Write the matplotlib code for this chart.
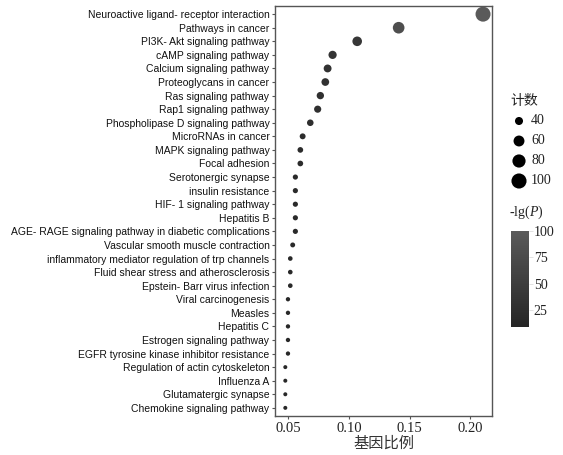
import matplotlib
matplotlib.use("Agg")
import matplotlib as mpl
import matplotlib.pyplot as plt
import numpy as np
from matplotlib.colors import LinearSegmentedColormap, Normalize

pathways = [
    "Neuroactive ligand- receptor interaction", "Pathways in cancer",
    "PI3K- Akt signaling pathway", "cAMP signaling pathway",
    "Calcium signaling pathway", "Proteoglycans in cancer",
    "Ras signaling pathway", "Rap1 signaling pathway",
    "Phospholipase D signaling pathway", "MicroRNAs in cancer",
    "MAPK signaling pathway", "Focal adhesion", "Serotonergic synapse",
    "insulin resistance", "HIF- 1 signaling pathway", "Hepatitis B",
    "AGE- RAGE signaling pathway in diabetic complications",
    "Vascular smooth muscle contraction",
    "inflammatory mediator regulation of trp channels",
    "Fluid shear stress and atherosclerosis", "Epstein- Barr virus infection",
    "Viral carcinogenesis", "Measles", "Hepatitis C",
    "Estrogen signaling pathway", "EGFR tyrosine kinase inhibitor resistance",
    "Regulation of actin cytoskeleton", "Influenza A",
    "Glutamatergic synapse", "Chemokine signaling pathway",
]
gene_ratio = [0.2106, 0.141, 0.1068, 0.0865, 0.0824, 0.0805, 0.0764, 0.0742,
              0.0681, 0.0618, 0.0599, 0.0599, 0.0558, 0.0558, 0.0558, 0.0558,
              0.0558, 0.0536, 0.0516, 0.0516, 0.0516, 0.0497, 0.0497, 0.0497,
              0.0497, 0.0497, 0.0475, 0.0475, 0.0475, 0.0475]
counts = [99, 66, 50, 41, 39, 38, 36, 35, 32, 29, 28, 28, 26, 26, 26, 26,
          26, 25, 24, 24, 24, 23, 23, 23, 23, 23, 22, 22, 22, 22]
neg_lg_p = [100, 80, 40, 35, 32, 30, 28, 27, 24, 22, 22, 21, 18, 18, 18, 18,
            18, 17, 16, 16, 16, 15, 15, 15, 15, 15, 14, 14, 14, 14]
size_legend = [40, 60, 80, 100]
cbar_ticks = [25, 50, 75, 100]
x_ticks = [0.05, 0.10, 0.15, 0.20]

mpl.rcParams["mathtext.fontset"] = "custom"
mpl.rcParams["mathtext.it"] = "Liberation Serif:italic"
mpl.rcParams["mathtext.rm"] = "Liberation Serif"

W, H = 563, 455
fig = plt.figure(figsize=(W / 100, H / 100), dpi=100)

def size_of(c):
    d = np.sqrt(np.maximum(-43.7 + 2.714 * np.asarray(c, float), 4))
    return (0.72 * d) ** 2

cmap = LinearSegmentedColormap.from_list("g", ["#252525", "#5a5a5a"])
norm = Normalize(9, 100)

ax = fig.add_axes([275 / W, 1 - 416 / H, (492 - 275) / W, (416 - 6) / H])
n = len(pathways)
y = np.arange(n)[::-1]
ax.scatter(gene_ratio, y, s=size_of(counts), c=neg_lg_p, cmap=cmap, norm=norm,
           edgecolors="none", zorder=3)
ax.set_ylim(-0.6, n - 0.4)
ax.set_xlim(0.039, 0.218)
ax.set_yticks(y)
ax.set_yticklabels(pathways, fontsize=7.5, family="Liberation Sans", color="#111111")
ax.set_xticks(x_ticks)
ax.set_xticklabels(["%.2f" % v for v in x_ticks], fontsize=10.5,
                   family="Liberation Serif", color="#222222")
ax.set_xlabel("基因比例", fontsize=11, family=["Noto Sans CJK SC"], color="#333333",
              labelpad=0)
for sp in ax.spines.values():
    sp.set_color("#555555")
    sp.set_linewidth(1.0)
ax.tick_params(axis="both", length=2.5, width=0.8, color="#555555", pad=1.5)

# size legend
fig.text(510 / W, 1 - 101 / H, "计数", fontsize=10, family=["Noto Sans CJK SC"],
         color="#222222", ha="left", va="center")
lax = fig.add_axes([0, 0, 1, 1], facecolor="none")
lax.set_xlim(0, W)
lax.set_ylim(H, 0)
lax.axis("off")
ly = [121, 141, 161, 181]
lax.scatter([519] * len(size_legend), ly, s=size_of(size_legend), c="black",
            edgecolors="none")
for yy, v in zip(ly, size_legend):
    lax.text(531, yy, str(v), fontsize=10, family="Liberation Serif",
             color="#222222", ha="left", va="center")

# colorbar
fig.text(509 / W, 1 - 212 / H, r"-lg($P$)", fontsize=10, family="Liberation Serif",
         color="#222222", ha="left", va="center")
cax = fig.add_axes([511 / W, 1 - 327 / H, 18 / W, (327 - 231) / H])
cb = mpl.colorbar.ColorbarBase(cax, cmap=cmap, norm=norm, ticks=cbar_ticks)
cb.outline.set_visible(False)
cax.tick_params(length=3, width=0.6, color="#dddddd", pad=0.5, labelsize=10)
for t in cax.get_yticklabels():
    t.set_family("Liberation Serif")
    t.set_color("#222222")

fig.savefig("out.png", dpi=100)
